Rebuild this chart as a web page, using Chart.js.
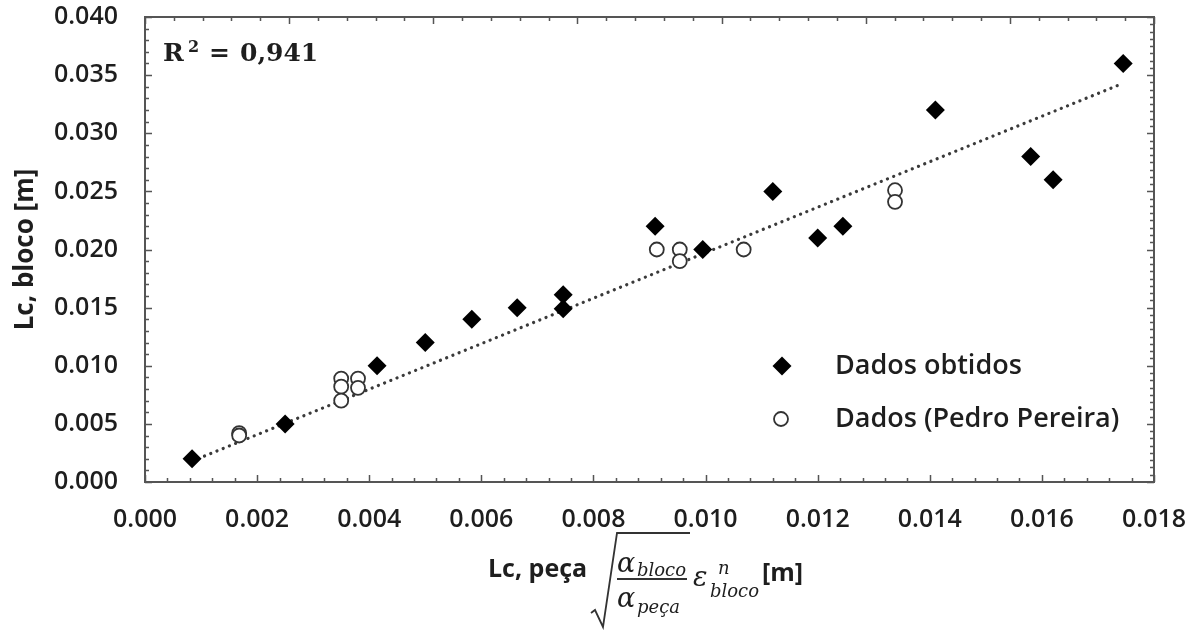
<!DOCTYPE html>
<html>
<head>
<meta charset="utf-8">
<script src="https://cdn.jsdelivr.net/npm/chart.js@4.4.1/dist/chart.umd.min.js"></script>
<style>
  html, body { margin: 0; padding: 0; background: #fff; }
  #wrap { width: 1198px; height: 630px; }
</style>
</head>
<body>
<div id="wrap"><canvas id="chart" width="1198" height="630"></canvas></div>
<script>
// Dados obtidos (losangos pretos)
const obtidosX = [0.00084, 0.0025, 0.00414, 0.0050, 0.00583, 0.00664, 0.00746, 0.00746, 0.0091, 0.00995, 0.0112, 0.0120, 0.01245, 0.0141, 0.0158, 0.0162, 0.01745];
const obtidosY = [0.0020, 0.0050, 0.0100, 0.0120, 0.0140, 0.0150, 0.0161, 0.0149, 0.0220, 0.0200, 0.0250, 0.0210, 0.0220, 0.0320, 0.0280, 0.0260, 0.0360];

// Dados (Pedro Pereira) (circulos abertos)
const pereiraX = [0.00168, 0.00168, 0.0035, 0.0035, 0.0035, 0.0038, 0.0038, 0.00913, 0.00954, 0.00954, 0.01068, 0.01338, 0.01338];
const pereiraY = [0.0042, 0.0040, 0.0089, 0.0082, 0.0070, 0.0089, 0.0081, 0.0200, 0.0200, 0.0190, 0.0200, 0.0251, 0.0241];

// Linha de tendencia (pontilhada), extremos
const trendX = [0.00084, 0.01745];
const trendY = [0.0018, 0.0343];

// Eixos
const xTickStep = 0.002, xMin = 0, xMax = 0.018;
const yTickStep = 0.005, yMin = 0, yMax = 0.040;
const rSquared = '0,941';

const legendLabels = ['Dados obtidos', 'Dados (Pedro Pereira)'];

const textColor = '#1e1e1e';
const frameColor = '#555';
const tickFont = { family: '"Open Sans", sans-serif', size: 25, weight: '600' };

function toPoints(xs, ys) {
    return xs.map((x, i) => ({ x: x, y: ys[i] }));
}

// Moldura, marcas internas, R2, legenda e titulos dos eixos
const decorPlugin = {
    id: 'decor',
    afterDraw(chart) {
        const ctx = chart.ctx;
        const a = chart.chartArea;
        const xs = chart.scales.x, ys = chart.scales.y;
        ctx.save();

        // marcas para dentro
        ctx.strokeStyle = frameColor;
        ctx.lineWidth = 1.5;
        ctx.beginPath();
        // baixo: menor 0.0004
        for (let i = 0; i <= 45; i++) {
            const px = Math.round(xs.getPixelForValue(i * 0.0004)) + 0.5;
            const len = i % 5 === 0 ? 7 : 4;
            ctx.moveTo(px, a.bottom); ctx.lineTo(px, a.bottom - len);
        }
        // esquerda: menor 0.001
        for (let i = 0; i <= 40; i++) {
            const py = Math.round(ys.getPixelForValue(i * 0.001)) + 0.5;
            const len = i % 5 === 0 ? 7 : 4;
            ctx.moveTo(a.left, py); ctx.lineTo(a.left + len, py);
        }
        // topo (eixo secundario)
        for (let i = 0; i <= 35; i++) {
            const px = Math.round(a.left + i * (a.right - a.left) / 35) + 0.5;
            const len = i % 5 === 0 ? 7 : 4;
            ctx.moveTo(px, a.top); ctx.lineTo(px, a.top + len);
        }
        // direita (eixo secundario)
        for (let i = 0; i <= 64; i++) {
            const py = Math.round(a.top + i * (a.bottom - a.top) / 64) + 0.5;
            const len = i % 8 === 0 ? 7 : 4;
            ctx.moveTo(a.right, py); ctx.lineTo(a.right - len, py);
        }
        ctx.stroke();

        // moldura
        ctx.lineWidth = 2;
        ctx.strokeRect(a.left, a.top, a.right - a.left, a.bottom - a.top);

        // R^2
        ctx.fillStyle = textColor;
        ctx.textAlign = 'left';
        ctx.textBaseline = 'alphabetic';
        ctx.font = 'bold 25px "DejaVu Serif"';
        ctx.fillText('R', a.left + 18, a.top + 44);
        ctx.fillText('=', a.left + 64, a.top + 44);
        ctx.fillText('0,', a.left + 95, a.top + 44);
        ctx.fillText(rSquared.split(',')[1], a.left + 121, a.top + 44);
        ctx.font = 'bold 16px "DejaVu Serif"';
        ctx.fillText('2', a.left + 43, a.top + 35);

        // legenda
        const lx = a.right - 372;
        const ly = [a.bottom - 116, a.bottom - 63];
        ctx.fillStyle = '#000';
        ctx.strokeStyle = '#000';
        Chart.helpers.drawPoint(ctx, { pointStyle: 'rectRot', radius: 9.5, rotation: 0, borderWidth: 0 }, lx, ly[0]);
        ctx.fillStyle = '#fff';
        ctx.strokeStyle = '#333';
        ctx.lineWidth = 1.8;
        Chart.helpers.drawPoint(ctx, { pointStyle: 'circle', radius: 7, rotation: 0, borderWidth: 1.8 }, lx - 1, ly[1]);
        ctx.fillStyle = textColor;
        ctx.font = '600 27px "Open Sans"';
        ctx.textBaseline = 'middle';
        legendLabels.forEach((t, i) => ctx.fillText(t, lx + 53, ly[i]));

        // titulo eixo y
        ctx.save();
        ctx.translate(26, (a.top + a.bottom) / 2);
        ctx.rotate(-Math.PI / 2);
        ctx.textAlign = 'center';
        ctx.font = 'bold 26px "Open Sans"';
        ctx.fillText('Lc, bloco [m]', 0, 0);
        ctx.restore();

        // titulo eixo x: Lc, peca sqrt(a_bloco/a_peca) e^n_bloco [m]
        const x0 = a.left + 343;
        const base = a.bottom + 95;
        ctx.textBaseline = 'alphabetic';
        ctx.textAlign = 'left';
        ctx.font = 'bold 25px "Open Sans"';
        ctx.fillText('Lc, peça', x0, base);
        ctx.strokeStyle = '#333';
        ctx.lineWidth = 1.8;
        ctx.beginPath();
        ctx.moveTo(x0 + 103, base + 36);
        ctx.lineTo(x0 + 107, base + 33);
        ctx.lineTo(x0 + 115, base + 50);
        ctx.lineTo(x0 + 129, base - 44);
        ctx.lineTo(x0 + 202, base - 44);
        ctx.stroke();
        ctx.beginPath();
        ctx.moveTo(x0 + 129, base + 2);
        ctx.lineTo(x0 + 199, base + 2);
        ctx.stroke();
        ctx.font = 'italic 27px "DejaVu Serif"';
        ctx.fillText('α', x0 + 129, base - 5);
        ctx.fillText('α', x0 + 129, base + 30);
        ctx.fillText('ε', x0 + 205, base + 9);
        ctx.font = 'italic 18px "DejaVu Serif"';
        ctx.fillText('bloco', x0 + 149, base - 1);
        ctx.fillText('peça', x0 + 149, base + 36);
        ctx.fillText('bloco', x0 + 222, base + 20);
        ctx.fillText('n', x0 + 230, base - 3);
        ctx.font = 'bold 25px "Open Sans"';
        ctx.fillText('[m]', x0 + 274, base + 4);

        ctx.restore();
    }
};

const ctx = document.getElementById('chart').getContext('2d');
const chart = new Chart(ctx, {
    type: 'scatter',
    data: {
        datasets: [
            {
                label: legendLabels[0],
                data: toPoints(obtidosX, obtidosY),
                pointStyle: 'rectRot',
                pointRadius: 9.5,
                pointBackgroundColor: '#000',
                pointBorderColor: '#000',
                pointBorderWidth: 0
            },
            {
                label: legendLabels[1],
                data: toPoints(pereiraX, pereiraY),
                pointStyle: 'circle',
                pointRadius: 7,
                pointBackgroundColor: '#fff',
                pointBorderColor: '#333',
                pointBorderWidth: 1.8
            },
            {
                label: 'Linear',
                data: toPoints(trendX, trendY),
                showLine: true,
                pointRadius: 0,
                borderColor: '#3a3a3a',
                borderWidth: 3.2,
                borderDash: [0.1, 6.6],
                borderCapStyle: 'round'
            }
        ]
    },
    options: {
        responsive: false,
        animation: false,
        devicePixelRatio: 1,
        layout: { padding: { left: 0, right: 44, top: 17, bottom: 0 } },
        plugins: {
            legend: { display: false },
            tooltip: { enabled: false }
        },
        scales: {
            x: {
                type: 'linear',
                min: xMin,
                max: xMax,
                grid: { display: false, drawTicks: false },
                border: { display: false },
                ticks: {
                    stepSize: xTickStep,
                    padding: 23,
                    color: textColor,
                    font: tickFont,
                    maxRotation: 0,
                    callback: v => v.toFixed(3)
                },
                afterFit(scale) {
                    scale.height = 148;
                    scale.paddingLeft = 0;
                    scale.paddingRight = 0;
                }
            },
            y: {
                type: 'linear',
                min: yMin,
                max: yMax,
                grid: { display: false, drawTicks: false },
                border: { display: false },
                ticks: {
                    stepSize: yTickStep,
                    padding: 27,
                    color: textColor,
                    font: tickFont,
                    callback: v => v.toFixed(3)
                },
                afterFit(scale) {
                    scale.width = 145;
                    scale.paddingTop = 0;
                    scale.paddingBottom = 0;
                }
            }
        }
    },
    plugins: [decorPlugin]
});
</script>
</body>
</html>
